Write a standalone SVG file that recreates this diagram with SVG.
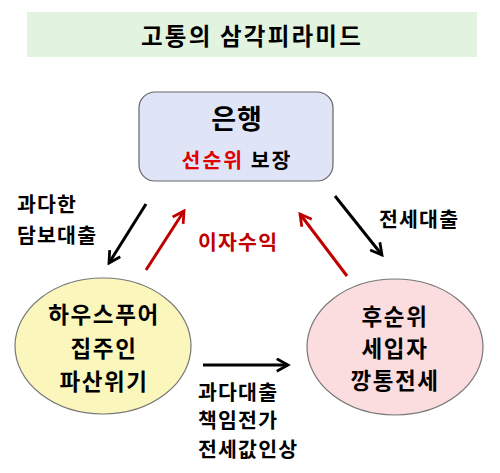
<svg xmlns="http://www.w3.org/2000/svg" width="500" height="473" viewBox="0 0 500 473">
<style>
text{font-family:"Noto Sans CJK KR","Noto Sans",sans-serif;font-weight:bold;fill:#000}
.lbl{font-size:20.5px;letter-spacing:1.2px}
.node{font-size:22.5px;letter-spacing:1.6px}
.red{fill:#e00000}
.dred{fill:#c00000}
.blk{stroke:#000;stroke-width:3;fill:none}
.rd{stroke:#c00000;stroke-width:3;fill:none}
</style>
<defs>
<marker id="ab" viewBox="0 0 12 12" refX="10" refY="6" markerWidth="5" markerHeight="5" orient="auto" markerUnits="strokeWidth"><polyline points="1,1 10,6 1,11" fill="none" stroke="#000" stroke-width="2.2"/></marker>
<marker id="ar" viewBox="0 0 12 12" refX="10" refY="6" markerWidth="5" markerHeight="5" orient="auto" markerUnits="strokeWidth"><polyline points="1,1 10,6 1,11" fill="none" stroke="#c00000" stroke-width="2.2"/></marker>
</defs>
<g id="title">
<rect x="27" y="12" width="450" height="45" fill="#e2f3e0"/>
<text x="252" y="45" font-size="23.5" letter-spacing="2.2" text-anchor="middle">고통의 삼각피라미드</text>
</g>
<g id="bank">
<rect x="139" y="92" width="194" height="89" rx="16" fill="#dfe4f7" stroke="#666" stroke-width="1.2"/>
<text x="237" y="129" font-size="27" letter-spacing="1" text-anchor="middle">은행</text>
<text x="237" y="168" font-size="20.5" letter-spacing="2" text-anchor="middle"><tspan class="red">선순위</tspan> 보장</text>
</g>
<g id="houseowner">
<ellipse cx="103" cy="346" rx="88" ry="68" fill="#fbf7bc" stroke="#777" stroke-width="1.2"/>
<text class="node" x="104" y="323" text-anchor="middle">하우스푸어</text>
<text class="node" x="104" y="357" text-anchor="middle">집주인</text>
<text class="node" x="104" y="390" text-anchor="middle">파산위기</text>
</g>
<g id="tenant">
<ellipse cx="395" cy="347" rx="88" ry="68" fill="#fbdcdf" stroke="#777" stroke-width="1.2"/>
<text class="node" x="395" y="325" text-anchor="middle">후순위</text>
<text class="node" x="395" y="357" text-anchor="middle">세입자</text>
<text class="node" x="395" y="389" text-anchor="middle">깡통전세</text>
</g>
<g id="connectors">
<line class="blk" x1="146" y1="204" x2="109" y2="263" marker-end="url(#ab)"/>
<line class="rd" x1="146" y1="270" x2="184" y2="211" marker-end="url(#ar)"/>
<line class="rd" x1="347" y1="276" x2="300" y2="214" marker-end="url(#ar)"/>
<line class="blk" x1="335" y1="196" x2="382" y2="255" marker-end="url(#ab)"/>
<line class="blk" x1="203" y1="365" x2="288" y2="365" marker-end="url(#ab)"/>
</g>
<g id="labels">
<text class="lbl" x="17" y="212">과다한</text>
<text class="lbl" x="17" y="243">담보대출</text>
<text class="lbl dred" x="198" y="250">이자수익</text>
<text class="lbl" x="379" y="227">전세대출</text>
<text class="lbl" x="198" y="400">과다대출</text>
<text class="lbl" x="198" y="428">책임전가</text>
<text class="lbl" x="198" y="457">전세값인상</text>
</g>
</svg>
